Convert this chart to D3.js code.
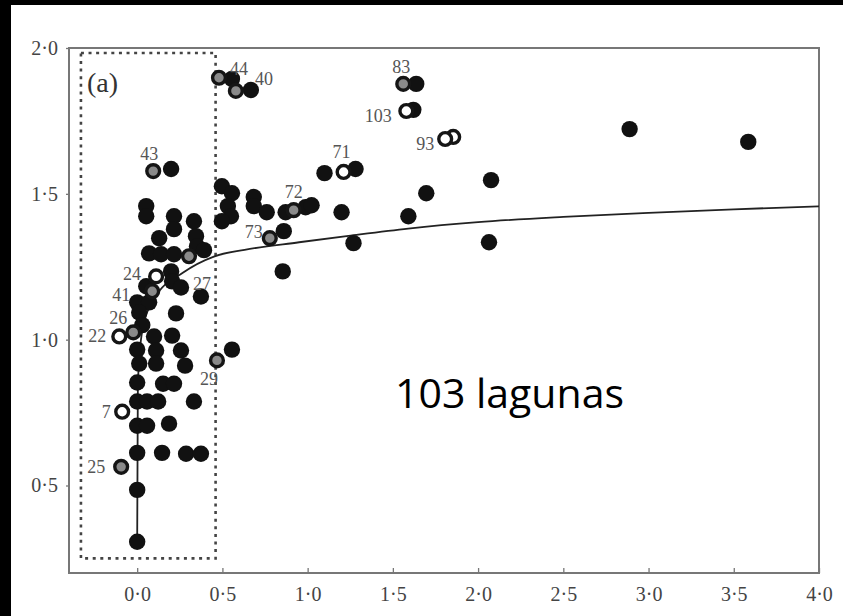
<!DOCTYPE html>
<html>
<head>
<meta charset="utf-8">
<script src="https://cdn.jsdelivr.net/npm/d3@7"></script>
<style>
  body { margin: 0; background: #000; }
  svg { display: block; }
</style>
</head>
<body>
<svg id="chart" width="843" height="616"></svg>
<script>
// --- data ---
const xTicks = [0.0, 0.5, 1.0, 1.5, 2.0, 2.5, 3.0, 3.5, 4.0];
const yTicks = [0.5, 1.0, 1.5, 2.0];

// solid black lakes [x, y, label]
const solidLakes = [
  [0.556, 1.894], [0.667, 1.856], [1.637, 1.877], [2.889, 1.722], [3.585, 1.678],
  [1.281, 1.585], [1.099, 1.571], [2.076, 1.547], [1.696, 1.502], [1.591, 1.423],
  [1.199, 1.437], [1.269, 1.331], [2.064, 1.334], [0.854, 1.234], [0.871, 1.437],
  [0.988, 1.454], [1.023, 1.461], [0.860, 1.372], [0.497, 1.526], [0.556, 1.502],
  [0.532, 1.458], [0.550, 1.423], [0.497, 1.406], [0.684, 1.489], [0.684, 1.458],
  [0.760, 1.437], [0.199, 1.585], [0.053, 1.458], [0.053, 1.423], [0.216, 1.423],
  [0.333, 1.406], [0.216, 1.379], [0.129, 1.348], [0.345, 1.355], [0.351, 1.320],
  [0.070, 1.296], [0.140, 1.293], [0.216, 1.293], [0.392, 1.307], [0.199, 1.234],
  [0.205, 1.200], [0.257, 1.179], [0.053, 1.183], [0.374, 1.148, "27"], [0.000, 1.128],
  [0.070, 1.128], [0.012, 1.093], [0.228, 1.090], [0.030, 1.050], [0.099, 1.011],
  [0.205, 1.014], [0.000, 0.966], [0.111, 0.963], [0.257, 0.963], [0.012, 0.918],
  [0.111, 0.918], [0.281, 0.911], [0.556, 0.966], [0.000, 0.853], [0.152, 0.849],
  [0.216, 0.849], [0.000, 0.788], [0.058, 0.788], [0.123, 0.788], [0.333, 0.788],
  [0.000, 0.705], [0.058, 0.705], [0.187, 0.712], [0.000, 0.612], [0.146, 0.612],
  [0.287, 0.609], [0.374, 0.609], [0.000, 0.485], [0.000, 0.307],
  [1.620, 1.788]
];

// grey-centred lakes
const greyLakes = [
  [0.480, 1.898, "44"], [0.579, 1.853, "40"], [1.561, 1.877, "83"], [0.918, 1.444, "72"],
  [0.778, 1.348, "73"], [0.094, 1.578, "43"], [0.304, 1.286], [0.088, 1.166, "41"],
  [-0.023, 1.025, "26"], [0.468, 0.929, "29"], [-0.094, 0.564, "25"]
];

// open (white-centred) lakes
const openLakes = [
  [1.854, 1.695], [1.579, 1.784, "103"], [1.807, 1.688, "93"], [1.211, 1.575, "71"],
  [0.111, 1.217, "24"], [-0.105, 1.011, "22"], [-0.088, 0.753, "7"]
];

// fitted curve
const fitCurve = [
  [0, 0.31], [0.004, 0.85], [0.03, 1.03], [0.1, 1.14], [0.27, 1.23], [0.45, 1.285],
  [0.63, 1.308], [0.95, 1.334], [1.24, 1.356], [1.59, 1.381], [2.0, 1.403],
  [2.5, 1.421], [3.0, 1.435], [3.5, 1.447], [4.0, 1.457]
];

// dashed selection box: x0, x1, y0, y1
const selBox = [-0.33, 0.46, 0.25, 1.983];

// label offsets (px) from the marker centre
const labelOffset = {
  "44": [20, -9], "40": [28, -12], "43": [-4, -17], "83": [-2, -17], "103": [-28, 5],
  "93": [-20, 5], "71": [-2, -20], "72": [0, -18], "73": [-16, -6], "24": [-24, -2],
  "41": [-31, 4], "26": [-15, -14], "22": [-22, 0], "27": [1, -13], "29": [-8, 19],
  "7": [-16, 0], "25": [-25, 0]
};

class LakePlot {
  constructor(svg_element_id) {
    this.svg = d3.select('#' + svg_element_id);
    this.width = 843;
    this.height = 616;
    this.margin = { top: 48, right: 24, bottom: 43, left: 69 };
  }

  draw() {
    const svg = this.svg;
    const m = this.margin;

    // white page inside the black border
    svg.append("rect")
      .attr("x", 11).attr("y", 5)
      .attr("width", this.width - 11).attr("height", this.height - 5)
      .attr("fill", "#fff");

    const x = d3.scaleLinear().domain([-0.4, 4.0]).range([m.left, this.width - m.right]);
    const y = d3.scaleLinear().domain([0.2, 2.0]).range([this.height - m.bottom, m.top]);
    const fmt = v => d3.format(".1f")(v).replace(".", "·");

    // axes
    const xAxis = svg.append("g")
      .attr("transform", `translate(0,${this.height - m.bottom})`)
      .call(d3.axisBottom(x).tickValues(xTicks).tickFormat(fmt).tickSizeInner(-5).tickSizeOuter(0).tickPadding(14));
    const yAxis = svg.append("g")
      .attr("transform", `translate(${m.left},0)`)
      .call(d3.axisLeft(y).tickValues(yTicks).tickFormat(fmt).tickSizeInner(3).tickSizeOuter(0).tickPadding(8));

    [xAxis, yAxis].forEach(g => {
      g.select(".domain").remove();
      g.selectAll(".tick line").attr("stroke", "#777").attr("stroke-width", 1.3);
      g.selectAll(".tick text")
        .attr("font-family", "'Liberation Serif', 'DejaVu Serif', serif")
        .attr("font-size", 20)
        .attr("fill", "#444");
    });

    // frame
    svg.append("rect")
      .attr("x", x(-0.4)).attr("y", y(2.0))
      .attr("width", x(4.0) - x(-0.4)).attr("height", y(0.2) - y(2.0))
      .attr("fill", "none")
      .attr("stroke", "#777")
      .attr("stroke-width", 2);

    // dashed box
    svg.append("rect")
      .attr("x", x(selBox[0])).attr("y", y(selBox[3]))
      .attr("width", x(selBox[1]) - x(selBox[0]))
      .attr("height", y(selBox[2]) - y(selBox[3]))
      .attr("fill", "none")
      .attr("stroke", "#444")
      .attr("stroke-width", 2.6)
      .attr("stroke-dasharray", "3,4.6");

    // fitted curve
    const line = d3.line()
      .x(d => x(d[0]))
      .y(d => y(d[1]))
      .curve(d3.curveMonotoneX);
    svg.append("path")
      .datum(fitCurve)
      .attr("d", line)
      .attr("fill", "none")
      .attr("stroke", "#222")
      .attr("stroke-width", 1.8);

    // markers
    svg.append("g").selectAll("circle")
      .data(solidLakes)
      .join("circle")
      .attr("cx", d => x(d[0]))
      .attr("cy", d => y(d[1]))
      .attr("r", 8.2)
      .attr("fill", "#111");

    svg.append("g").selectAll("circle")
      .data(greyLakes)
      .join("circle")
      .attr("cx", d => x(d[0]))
      .attr("cy", d => y(d[1]))
      .attr("r", 6.4)
      .attr("fill", "#8a8a8a")
      .attr("stroke", "#151515")
      .attr("stroke-width", 3.4);

    svg.append("g").selectAll("circle")
      .data(openLakes)
      .join("circle")
      .attr("cx", d => x(d[0]))
      .attr("cy", d => y(d[1]))
      .attr("r", 6.4)
      .attr("fill", "#fff")
      .attr("stroke", "#151515")
      .attr("stroke-width", 3.4);

    // lake numbers
    const labelled = solidLakes.concat(greyLakes, openLakes).filter(d => d[2]);
    svg.append("g").selectAll("text")
      .data(labelled)
      .join("text")
      .attr("x", d => x(d[0]) + labelOffset[d[2]][0])
      .attr("y", d => y(d[1]) + labelOffset[d[2]][1])
      .attr("text-anchor", "middle")
      .attr("dominant-baseline", "central")
      .attr("font-family", "'Liberation Serif', 'DejaVu Serif', serif")
      .attr("font-size", 18)
      .attr("fill", "#555")
      .text(d => d[2]);

    // panel letter
    svg.append("text")
      .attr("x", 87).attr("y", 92)
      .attr("font-family", "'Liberation Serif', 'DejaVu Serif', serif")
      .attr("font-size", 28)
      .attr("fill", "#333")
      .text("(a)");

    // annotation
    svg.append("text")
      .attr("x", 395).attr("y", 408)
      .attr("font-family", "'Open Sans', 'Noto Sans', sans-serif")
      .attr("font-size", 41)
      .attr("fill", "#000")
      .text("103 lagunas");
  }
}

function whenDocumentLoaded(action) {
  if (document.readyState === "loading") {
    document.addEventListener("DOMContentLoaded", action);
  } else {
    action();
  }
}

whenDocumentLoaded(() => {
  const plot = new LakePlot('chart');
  plot.draw();
});
</script>
</body>
</html>
